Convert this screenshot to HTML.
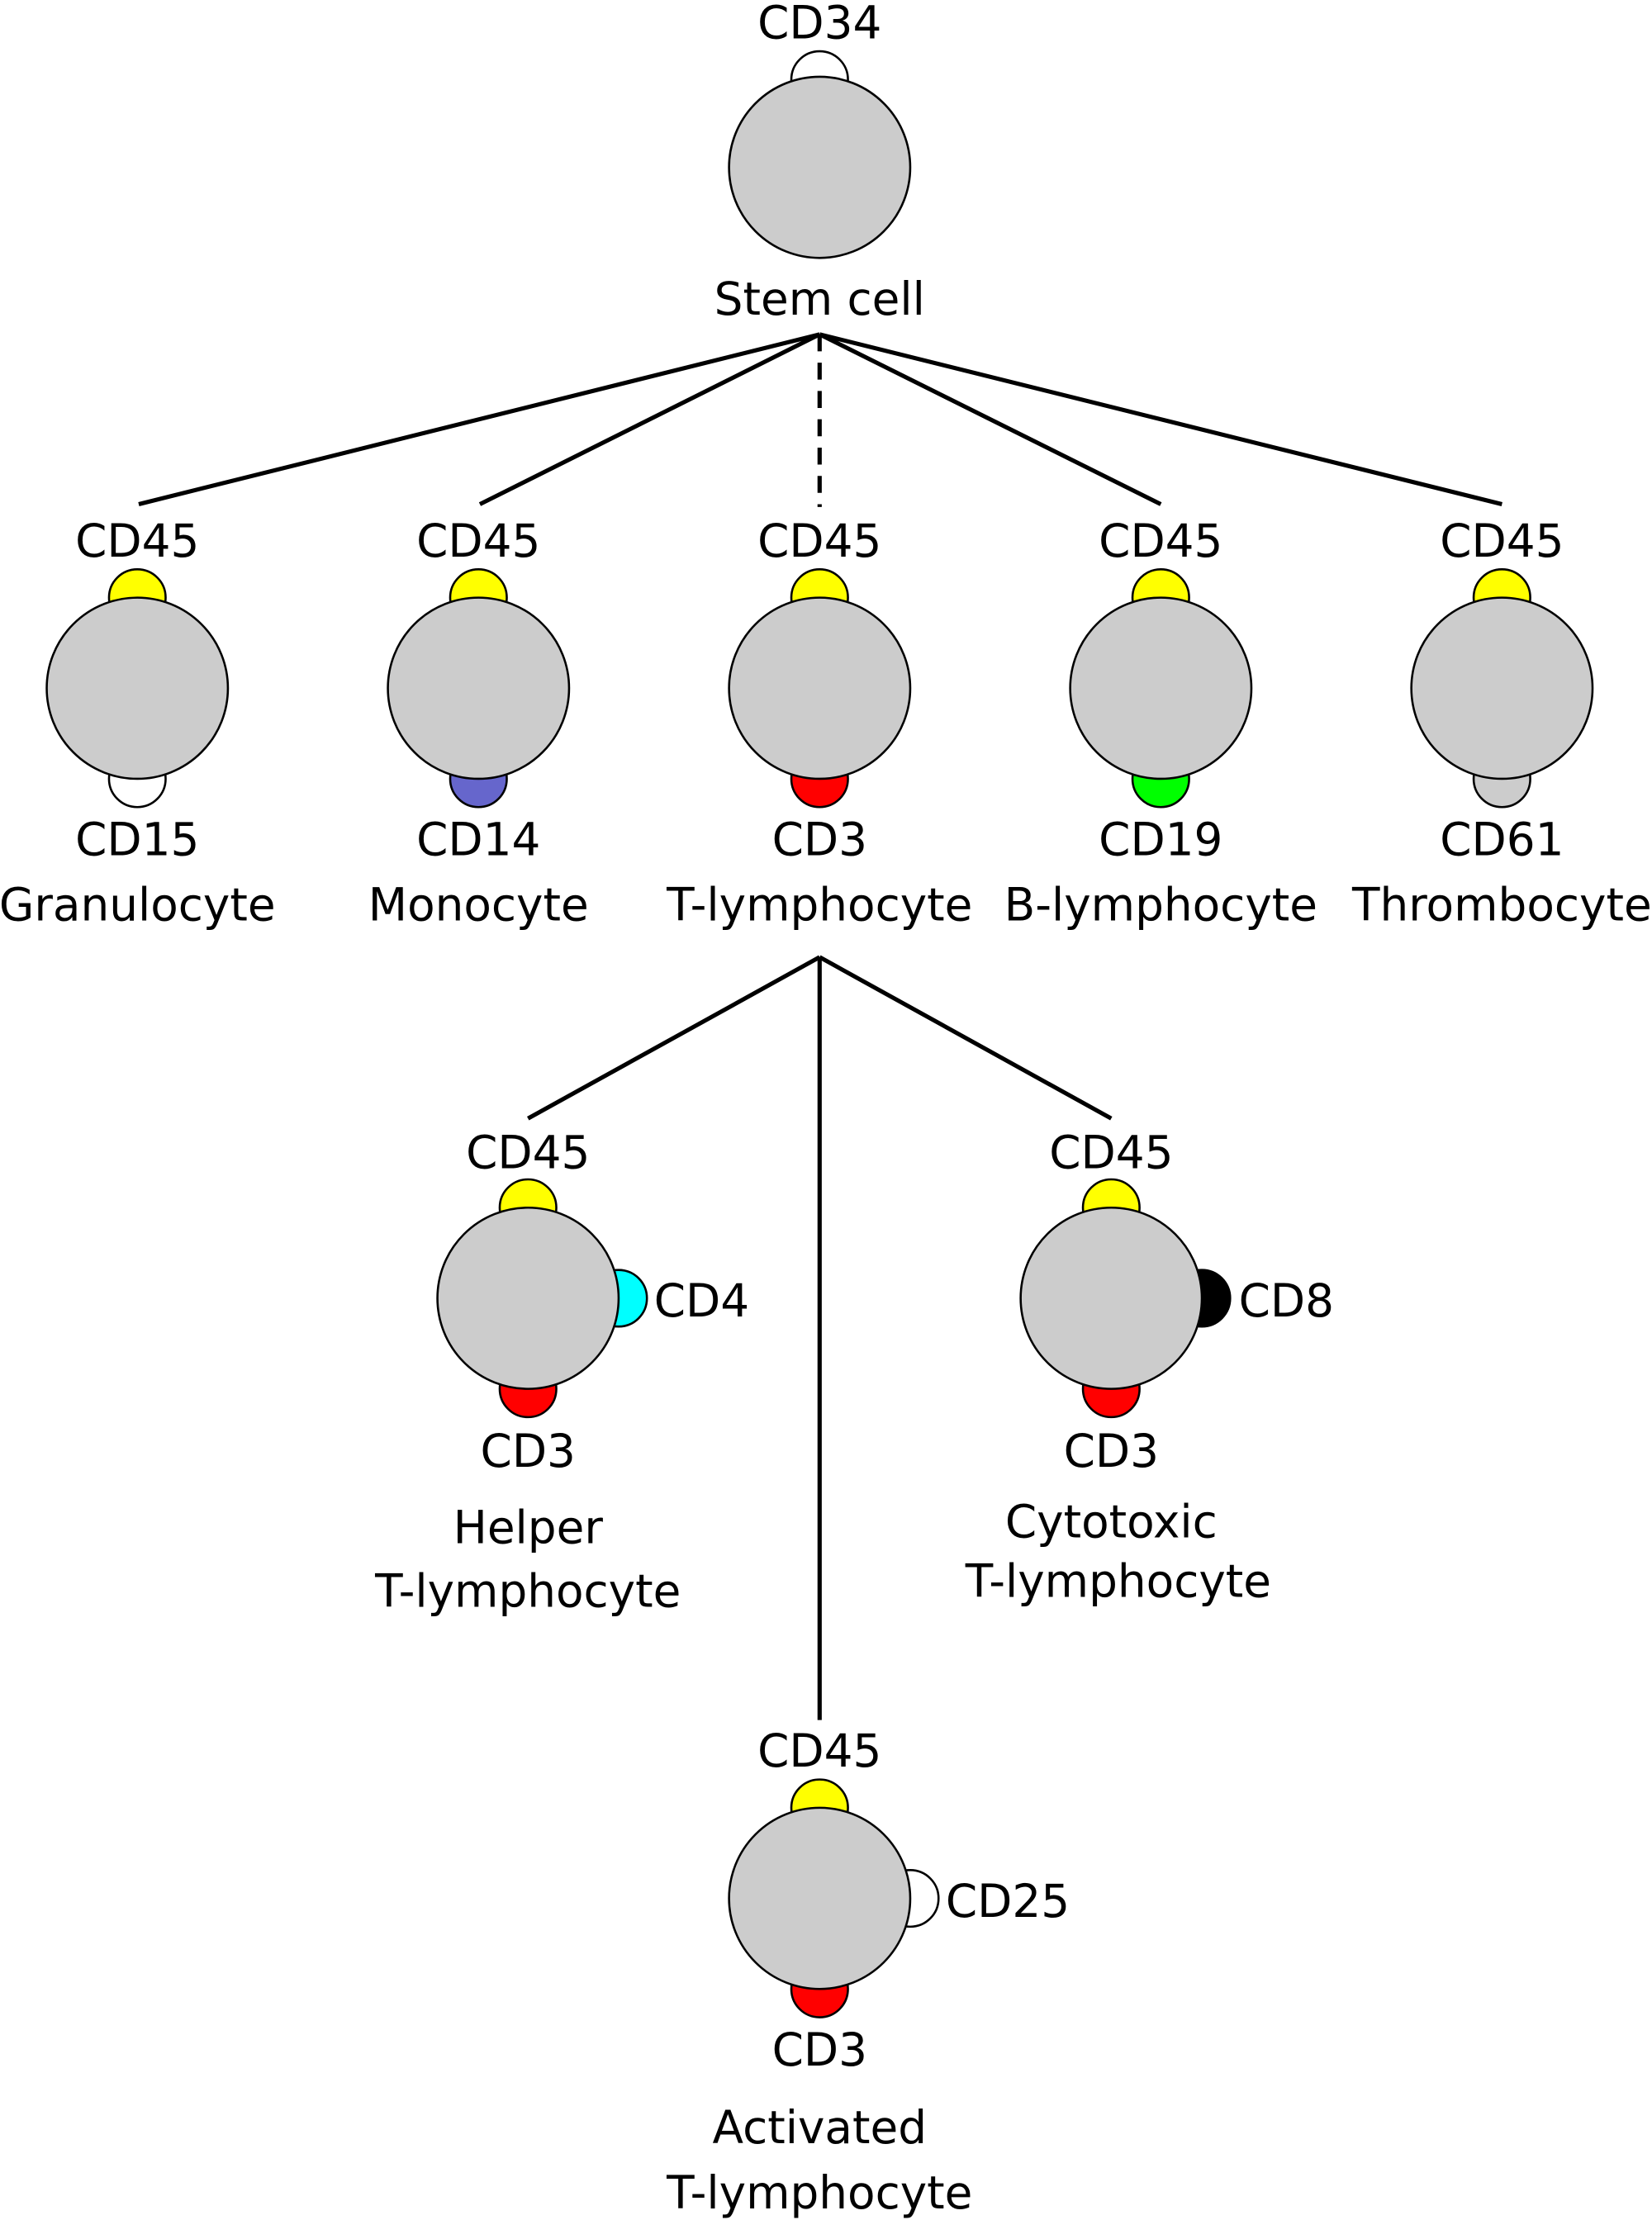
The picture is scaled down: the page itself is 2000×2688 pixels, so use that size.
<!DOCTYPE html>
<html><head><meta charset="utf-8"><style>html,body{margin:0;padding:0;background:#fff}svg{display:block}</style></head>
<body>
<svg width="2000" height="2688" viewBox="0 0 1167 1568" xmlns="http://www.w3.org/2000/svg" font-family="DejaVu Sans, sans-serif" font-size="32" text-anchor="middle" fill="#000">
<g stroke="#000" stroke-width="3" fill="none">
<line x1="579" y1="236" x2="98" y2="356"/>
<line x1="579" y1="236" x2="339" y2="356"/>
<line x1="579" y1="236" x2="579" y2="358" stroke-dasharray="12,8"/>
<line x1="579" y1="236" x2="820" y2="356"/>
<line x1="579" y1="236" x2="1061" y2="356"/>
<line x1="579" y1="676" x2="373" y2="790"/>
<line x1="579" y1="676" x2="579" y2="1215"/>
<line x1="579" y1="676" x2="785" y2="790"/>
</g>
<g stroke="#000" stroke-width="1.5">
<circle cx="579" cy="56" r="20" fill="#fff"/>
<circle cx="579" cy="118" r="64" fill="#ccc"/>
<circle cx="97" cy="422" r="20" fill="#ff0"/><circle cx="97" cy="550" r="20" fill="#fff"/><circle cx="97" cy="486" r="64" fill="#ccc"/>
<circle cx="338" cy="422" r="20" fill="#ff0"/><circle cx="338" cy="550" r="20" fill="#6666cc"/><circle cx="338" cy="486" r="64" fill="#ccc"/>
<circle cx="579" cy="422" r="20" fill="#ff0"/><circle cx="579" cy="550" r="20" fill="#f00"/><circle cx="579" cy="486" r="64" fill="#ccc"/>
<circle cx="820" cy="422" r="20" fill="#ff0"/><circle cx="820" cy="550" r="20" fill="#0f0"/><circle cx="820" cy="486" r="64" fill="#ccc"/>
<circle cx="1061" cy="422" r="20" fill="#ff0"/><circle cx="1061" cy="550" r="20" fill="#ccc"/><circle cx="1061" cy="486" r="64" fill="#ccc"/>
<circle cx="373" cy="853" r="20" fill="#ff0"/><circle cx="373" cy="981" r="20" fill="#f00"/><circle cx="437" cy="917" r="20" fill="#0ff"/><circle cx="373" cy="917" r="64" fill="#ccc"/>
<circle cx="785" cy="853" r="20" fill="#ff0"/><circle cx="785" cy="981" r="20" fill="#f00"/><circle cx="849" cy="917" r="20" fill="#000"/><circle cx="785" cy="917" r="64" fill="#ccc"/>
<circle cx="579" cy="1277" r="20" fill="#ff0"/><circle cx="579" cy="1405" r="20" fill="#f00"/><circle cx="643" cy="1341" r="20" fill="#fff"/><circle cx="579" cy="1341" r="64" fill="#ccc"/>
</g>
<text x="579" y="27">CD34</text>
<text x="579" y="222">Stem cell</text>
<g>
<text x="97" y="393">CD45</text><text x="338" y="393">CD45</text><text x="579" y="393">CD45</text><text x="820" y="393">CD45</text><text x="1061" y="393">CD45</text>
<text x="97" y="604">CD15</text><text x="338" y="604">CD14</text><text x="579" y="604">CD3</text><text x="820" y="604">CD19</text><text x="1061" y="604">CD61</text>
<text x="97" y="650">Granulocyte</text><text x="338" y="650">Monocyte</text><text x="579" y="650">T-lymphocyte</text><text x="820" y="650">B-lymphocyte</text><text x="1061" y="650">Thrombocyte</text>
</g>
<text x="373" y="825">CD45</text><text x="373" y="1036">CD3</text>
<text x="462" y="930" text-anchor="start">CD4</text>
<text x="373" y="1090">Helper</text><text x="373" y="1135">T-lymphocyte</text>
<text x="785" y="825">CD45</text><text x="785" y="1036">CD3</text>
<text x="875" y="930" text-anchor="start">CD8</text>
<text x="785" y="1086">Cytotoxic</text><text x="790" y="1128">T-lymphocyte</text>
<text x="579" y="1248">CD45</text><text x="579" y="1459">CD3</text>
<text x="668" y="1354" text-anchor="start">CD25</text>
<text x="579" y="1514">Activated</text><text x="579" y="1560">T-lymphocyte</text>
</svg>
</body></html>
